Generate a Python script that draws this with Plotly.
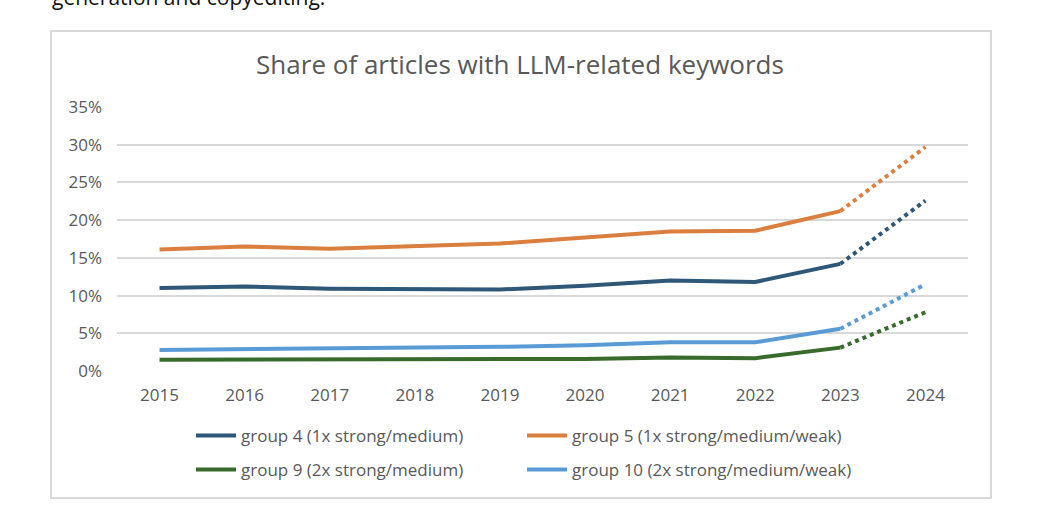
import plotly.graph_objects as go

years = [2015, 2016, 2017, 2018, 2019, 2020, 2021, 2022, 2023, 2024]
group4 = [11.0, 11.2, 10.9, 10.9, 10.8, 11.3, 12.0, 11.8, 14.2, 22.6]
group5 = [16.1, 16.5, 16.2, 16.5, 16.9, 17.7, 18.5, 18.6, 21.2, 29.7]
group9 = [1.5, 1.5, 1.5, 1.5, 1.5, 1.6, 1.8, 1.7, 3.1, 7.8]
group10 = [2.8, 2.9, 2.9, 3.1, 3.2, 3.4, 3.8, 3.8, 5.6, 11.5]
y_ticks = [0, 5, 10, 15, 20, 25, 30, 35]
y_tick_labels = ["0%", "5%", "10%", "15%", "20%", "25%", "30%", "35%"]

names = ["group 4 (1x strong/medium)", "group 5 (1x strong/medium/weak)",
         "group 9 (2x strong/medium)", "group 10 (2x strong/medium/weak)"]
series = [group4, group5, group9, group10]
colors = ["#2F5878", "#DA7F3F", "#386A2C", "#5B9BD5"]
legends = ["legend", "legend", "legend2", "legend2"]

title_text = "Share of articles with LLM-related keywords"
page_text = "generation and copyediting."

fig = go.Figure()
for name, vals, col, lg in zip(names, series, colors, legends):
    fig.add_trace(go.Scatter(x=years[:9], y=vals[:9], mode="lines", name=name,
                             line=dict(color=col, width=4), legend=lg))
for name, vals, col, lg in zip(names, series, colors, legends):
    fig.add_trace(go.Scatter(x=years[8:], y=vals[8:], mode="lines", name=name,
                             line=dict(color=col, width=4, dash="dot"),
                             showlegend=False, legend=lg))

W, H = 1061, 531
L, R, T, B = 117, 93, 107, 160
ph = H - T - B
pw = W - L - R

def px_x(p):
    return (p - L) / pw

def px_y(p):
    return (H - B - p) / ph

txt_col = "#595959"
font = "Open Sans"

fig.update_layout(
    width=W, height=H,
    margin=dict(l=L, r=R, t=T, b=B),
    paper_bgcolor="white", plot_bgcolor="white",
    font=dict(family=font, color=txt_col, size=16),
    title=dict(text=title_text, x=px_x(520), xref="paper", xanchor="center",
               y=1 - 65 / H, yanchor="middle",
               font=dict(size=26, color=txt_col, family=font)),
    xaxis=dict(range=[2014.5, 2024.5], tickmode="array", tickvals=years,
               showgrid=False, zeroline=False, showline=False, ticks="",
               ticklabelstandoff=12, tickfont=dict(size=17, color=txt_col)),
    yaxis=dict(range=[0, 35], tickmode="array", tickvals=y_ticks,
               ticktext=y_tick_labels,
               showgrid=True, gridcolor="#D9D9D9", gridwidth=1.5,
               zeroline=False, showline=False, ticks="",
               ticklabelstandoff=14, tickfont=dict(size=17, color=txt_col)),
    legend=dict(orientation="h", x=px_x(191), xanchor="left",
                y=px_y(436), yanchor="middle", entrywidth=276,
                font=dict(size=17, color=txt_col), bgcolor="rgba(0,0,0,0)",
                itemwidth=40, tracegroupgap=0),
    legend2=dict(orientation="h", x=px_x(191), xanchor="left",
                 y=px_y(470), yanchor="middle", entrywidth=276,
                 font=dict(size=17, color=txt_col), bgcolor="rgba(0,0,0,0)",
                 itemwidth=40, tracegroupgap=0),
    shapes=[dict(type="rect", xref="paper", yref="paper",
                 x0=px_x(51), x1=px_x(991), y0=px_y(498), y1=px_y(31),
                 line=dict(color="#D9D9D9", width=2), fillcolor="rgba(0,0,0,0)",
                 layer="below")],
    annotations=[dict(text=page_text, xref="paper", yref="paper",
                      x=px_x(50), xanchor="left", y=px_y(13), yanchor="bottom",
                      showarrow=False, font=dict(size=21, color="#111111", family=font))],
)

fig.write_html("out.html")
